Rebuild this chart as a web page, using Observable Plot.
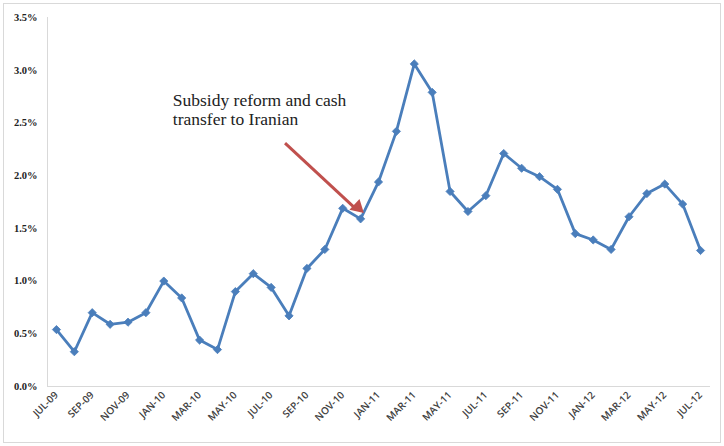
<!DOCTYPE html>
<html>
<head>
<meta charset="utf-8">
<script src="https://cdn.jsdelivr.net/npm/d3@7"></script>
<script src="https://cdn.jsdelivr.net/npm/@observablehq/plot@0.6"></script>
<style>
  html, body { margin: 0; padding: 0; background: #fff; }
  #wrap { position: relative; width: 724px; height: 446px; }
  #border { position: absolute; left: 3px; top: 3px; width: 716px; height: 438px; border: 1px solid #d9d9d9; pointer-events: none; }
</style>
</head>
<body>
<div id="wrap"><div id="border"></div></div>
<script>
const months = ["JUL-09","AUG-09","SEP-09","OCT-09","NOV-09","DEC-09","JAN-10","FEB-10","MAR-10","APR-10","MAY-10","JUN-10","JUL-10","AUG-10","SEP-10","OCT-10","NOV-10","DEC-10","JAN-11","FEB-11","MAR-11","APR-11","MAY-11","JUN-11","JUL-11","AUG-11","SEP-11","OCT-11","NOV-11","DEC-11","JAN-12","FEB-12","MAR-12","APR-12","MAY-12","JUN-12","JUL-12"];
const values = [0.0054,0.0033,0.0070,0.0059,0.0061,0.0070,0.0100,0.0084,0.0044,0.0035,0.0090,0.0107,0.0094,0.0067,0.0112,0.0130,0.0169,0.0159,0.0194,0.0242,0.0306,0.0279,0.0185,0.0166,0.0181,0.0221,0.0207,0.0199,0.0187,0.0145,0.0139,0.0130,0.0161,0.0183,0.0192,0.0173,0.0129];
const xTickLabels = ["JUL-09","SEP-09","NOV-09","JAN-10","MAR-10","MAY-10","JUL-10","SEP-10","NOV-10","JAN-11","MAR-11","MAY-11","JUL-11","SEP-11","NOV-11","JAN-12","MAR-12","MAY-12","JUL-12"];
const yTicks = [0,0.005,0.01,0.015,0.02,0.025,0.03,0.035];
const annotationText = ["Subsidy reform and cash\ntransfer to Iranian"];
const annotationAt = {month: "JAN-10", value: 0.0278};
const arrowFrom = {month: "AUG-10", value: 0.0227};
const arrowTo = {month: "DEC-10", value: 0.0164};
const arrowHeadBase = {month: "DEC-10", value: 0.0171};

const data = months.map((m, i) => ({month: m, value: values[i]}));
const blue = "#4A7EBB";
const red = "#C0504D";
const serif = "Liberation Serif";

const chart = Plot.plot({
  width: 724,
  height: 446,
  marginLeft: 47,
  marginRight: 15,
  marginTop: 17,
  marginBottom: 60,
  style: {background: "transparent", overflow: "visible"},
  x: {type: "point", domain: months, padding: 0.5, label: null},
  y: {domain: [0, 0.035], label: null},
  marks: [
    Plot.frame({anchor: "left", stroke: "#d9d9d9"}),
    Plot.frame({anchor: "bottom", stroke: "#d9d9d9"}),
    Plot.axisY({ticks: yTicks, tickFormat: d3.format(".1%"), tickSize: 0, tickPadding: 10, fontFamily: serif, fontWeight: "bold", fontSize: 10.5, fill: "#222", label: null}),
    Plot.axisX({ticks: xTickLabels, tickSize: 0, tickPadding: 7, tickRotate: -45, fontFamily: "Open Sans", fontWeight: 600, fontSize: 10, fill: "#404040", label: null}),
    Plot.line(data, {x: "month", y: "value", stroke: blue, strokeWidth: 2.8, strokeLinejoin: "round"}),
    Plot.dot(data, {x: "month", y: "value", symbol: "diamond2", r: 3.7, fill: blue, stroke: blue, strokeWidth: 0.8}),
    Plot.link([{x1: arrowFrom.month, y1: arrowFrom.value, x2: arrowTo.month, y2: arrowTo.value}], {x1: "x1", y1: "y1", x2: "x2", y2: "y2", stroke: red, strokeWidth: 3, dx: -4, dy: -4}),
    Plot.dot([arrowHeadBase], {x: "month", y: "value", symbol: "triangle", r: 5.5, fill: red, rotate: 133, dx: -3, dy: 1}),
    Plot.text(annotationText, {x: () => annotationAt.month, y: () => annotationAt.value, text: d => d, textAnchor: "start", lineAnchor: "top", dx: 9, fontFamily: serif, fontSize: 17.5, lineHeight: 1.05, fill: "#222"})
  ]
});
document.getElementById("wrap").appendChild(chart);
chart.style.position = "absolute";
chart.style.left = "0";
chart.style.top = "0";
</script>
</body>
</html>
